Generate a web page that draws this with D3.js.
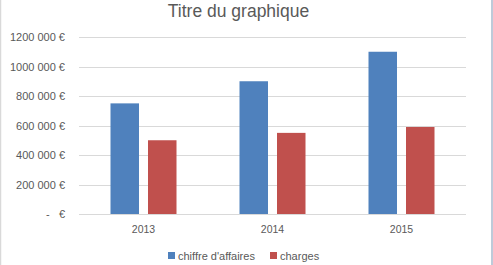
<!DOCTYPE html>
<html>
<head>
<meta charset="utf-8">
<script src="https://cdn.jsdelivr.net/npm/d3@7"></script>
<style>
  body { margin: 0; background: #fff; }
  svg text { font-family: "Liberation Sans", Arial, sans-serif; fill: #595959; }
</style>
</head>
<body>
<svg id="chart" width="493" height="265"></svg>
<script>
let years = ["2013", "2014", "2015"];
let seriesNames = ["chiffre d'affaires", "charges"];
let chiffreAffaires = [750000, 900000, 1100000];
let charges = [500000, 550000, 590000];
let yTicks = [0, 200000, 400000, 600000, 800000, 1000000, 1200000];
let colors = ["#4f81bd", "#c0504d"];

let svg = d3.select("#chart");

let plotLeft = 79, plotRight = 466, plotTop = 37, plotBottom = 214;

// frame lines
svg.append("line").attr("x1", 0.5).attr("x2", 0.5).attr("y1", 0).attr("y2", 265)
    .style("stroke", "#d9d9d9").style("stroke-width", 1.5);
svg.append("line").attr("x1", 492).attr("x2", 492).attr("y1", 0).attr("y2", 265)
    .style("stroke", "#a9b8cc").style("stroke-width", 1.5);

let x0 = d3.scaleBand()
    .domain(years)
    .range([plotLeft, plotRight]);

let x1 = d3.scaleBand()
    .domain(seriesNames)
    .range([0, 66])
    .paddingInner(0.24);

let y = d3.scaleLinear()
    .domain([0, 1200000])
    .range([plotBottom, plotTop]);

let fmt = function(d) {
    if (d == 0) return "-   €";
    let s = String(d);
    let th = s.slice(-3);
    let rest = s.slice(0, -3);
    return rest + " " + th + " €";
};

// gridlines
svg.append("g").selectAll("line")
    .data(yTicks)
    .enter().append("line")
    .attr("x1", plotLeft)
    .attr("x2", plotRight)
    .attr("y1", d => Math.round(y(d)) + 0.5)
    .attr("y2", d => Math.round(y(d)) + 0.5)
    .style("stroke", "#d9d9d9")
    .style("stroke-width", 1);

// y labels
svg.append("g").selectAll("text")
    .data(yTicks)
    .enter().append("text")
    .attr("x", 65)
    .attr("y", d => y(d) + 4)
    .attr("text-anchor", "end")
    .style("font-size", "11px")
    .style("white-space", "pre")
    .text(fmt);

// bars
let groups = svg.append("g").selectAll("g")
    .data(years)
    .enter().append("g")
    .attr("transform", d => "translate(" + (x0(d) + (x0.bandwidth() - 66) / 2) + ",0)");

groups.selectAll("rect")
    .data((d, i) => [
        {name: seriesNames[0], value: chiffreAffaires[i]},
        {name: seriesNames[1], value: charges[i]}
    ])
    .enter().append("rect")
    .attr("x", d => x1(d.name))
    .attr("width", x1.bandwidth())
    .attr("y", d => y(d.value))
    .attr("height", d => y(0) - y(d.value))
    .attr("fill", (d, i) => colors[i]);

// x labels
svg.append("g").selectAll("text")
    .data(years)
    .enter().append("text")
    .attr("x", d => x0(d) + x0.bandwidth() / 2)
    .attr("y", 233)
    .attr("text-anchor", "middle")
    .style("font-size", "10.5px")
    .text(d => d);

// title
svg.append("text")
    .attr("x", 238.5)
    .attr("y", 17)
    .attr("text-anchor", "middle")
    .style("font-size", "17.5px")
    .text("Titre du graphique");

// legend
let legendX = [168, 270];
let legend = svg.append("g").selectAll("g")
    .data(seriesNames)
    .enter().append("g")
    .attr("transform", (d, i) => "translate(" + legendX[i] + ",252)");
legend.append("rect")
    .attr("width", 7)
    .attr("height", 7)
    .attr("fill", (d, i) => colors[i]);
legend.append("text")
    .attr("x", 10)
    .attr("y", 7.5)
    .style("font-size", "11px")
    .text(d => d);
</script>
</body>
</html>
